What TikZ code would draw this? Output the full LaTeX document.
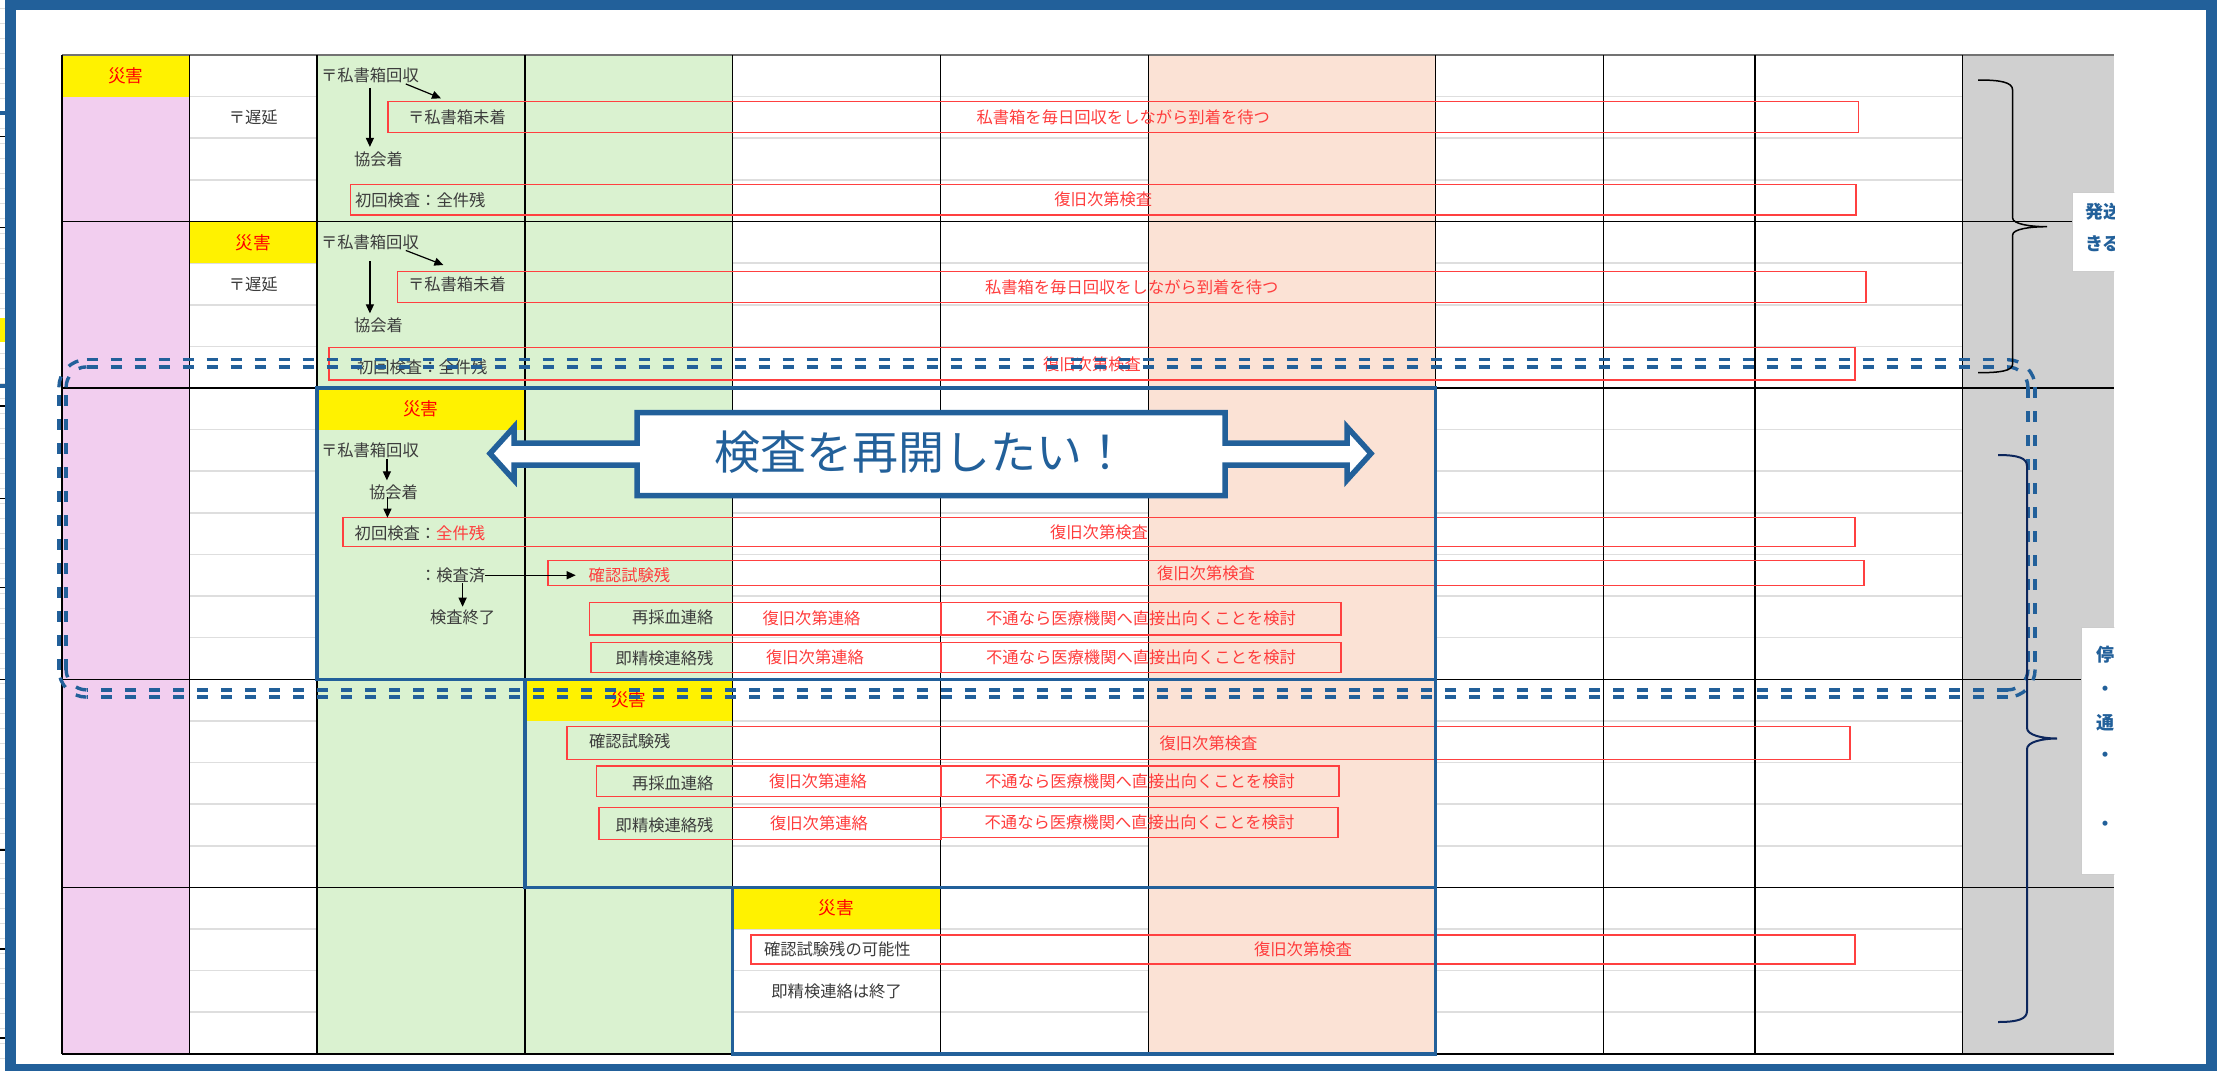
\documentclass[tikz,border=0pt]{standalone}
\usepackage{fontspec}
\newfontfamily\jp{Noto Sans CJK JP}
\usepackage{xcolor}
\usepackage{tikz}
\usetikzlibrary{
	arrows.meta,
	calc
}
\tikzstyle{every picture}+=[>={Triangle[length=9pt, width=8pt]}]
\definecolor{frameblue}{RGB}{34,96,154}
\definecolor{pinkcol}{RGB}{242,206,239}
\definecolor{greencol}{RGB}{218,242,208}
\definecolor{salmoncol}{RGB}{251,226,213}
\definecolor{graycol}{RGB}{208,208,208}
\definecolor{gridgray}{RGB}{222,222,222}
\definecolor{txtgray}{RGB}{60,60,60}
\definecolor{redline}{RGB}{255,64,64}
\definecolor{redtxt}{RGB}{255,60,60}
\definecolor{navy}{RGB}{12,38,92}

\begin{document}
\begin{tikzpicture}[x=1pt, y=-1pt,
		lbl/.style={font=\jp\fontsize{16.3}{18}\selectfont, text=txtgray, inner sep=0pt, outer sep=0pt, text height=14.3pt, text depth=2pt},
		redbox/.style={lbl, text=redtxt, draw=redline, line width=1.3pt, anchor=north west},
		ycell/.style={fill=yellow, text=red, anchor=north west, inner sep=0pt, outer sep=0pt, minimum height=41.62pt, font=\jp\fontsize{17.7}{20}\selectfont, text height=15.6pt, text depth=2.1pt},
		arr/.style={->, line width=1.2pt, black},
		notebox/.style={fill=white, draw=black!20, line width=1pt, anchor=north west, inner sep=0pt},
		notetxt/.style={font=\jp\bfseries\fontsize{18}{20}\selectfont, text=frameblue, inner sep=0pt, anchor=west, text height=15.8pt, text depth=2.2pt}
	]

	\newcommand\TopY{55}
	\newcommand\RowH{41.62}
	\newcommand\RowY[1]{\TopY+\RowH*(#1)}
	\newcommand\TabL{62.2}
	\newcommand\TabR{2114.4}
	\newcommand\TabB{1053.9}

	\useasboundingbox (0,0) rectangle (2217,1071);
	\fill[white] (0,0) rectangle (2217,1071);

	% strip of the sheet behind the frame
	\begin{scope}
		\clip (0,0) rectangle (5,1071);
		\foreach \y in {8,23,...,1065}
			\draw[gridgray, line width=1pt] (0,\y) -- (5,\y);
		\fill[yellow] (0,317.6) rectangle (5,341.5);
		\foreach \y in {136.6,227.5,406,498.6,587.4,679.6,850,949,1038}
			\draw[line width=1.2pt] (0,\y) -- (5,\y);
		\foreach \y in {112.7,386}
			\draw[frameblue, line width=4pt] (0,\y) -- (5,\y);
	\end{scope}

	% column colours
	\foreach \xa/\xb/\col in {62.2/189.5/pinkcol, 316.9/732.7/greencol, 1148.5/1435.5/salmoncol, 1962.7/2114.4/graycol}
		\fill[\col] (\xa,\TopY) rectangle (\xb,\TabB);

	% light lines of the sub-rows
	\foreach \row in {1,2,3,5,6,7,9,10,11,12,13,14,16,17,18,19,21,22,23}
		\foreach \xa/\xb in {189.5/316.9, 732.7/1148.5, 1435.5/1962.7}
			\draw[gridgray, line width=1.6pt] (\xa,{\RowY{\row}}) -- (\xb,{\RowY{\row}});

	\foreach \nm/\x/\w/\row in {0/62.2/127.3/0, 1/189.5/127.4/4, 2/316.9/207.9/8, 3/524.8/207.9/15, 4/732.7/207.8/20}
		\node[ycell, minimum width=\w pt] (dis\nm) at (\x,{\RowY{\row}}) {災害};

	% sheet lines
	\draw[line width=1.5pt, black!55] (\TabL,\TopY) -- (\TabR,\TopY);
	\foreach \x in {62.2,189.5,316.9,524.8,732.7,940.5,1148.5,1435.5,1603.6,1754.8,1962.7}
		\draw[line width=1.5pt] (\x,\TopY) -- (\x,\TabB);
	\foreach \row in {4,8,15,20,24}
		\draw[line width=1.5pt] (\TabL,{\RowY{\row}}) -- (\TabR,{\RowY{\row}});

	\foreach \nm/\x/\y/\w/\h/\txt in {
			rb1/388/101.7/1470.5/30.6/私書箱を毎日回収をしながら到着を待つ,
			rb3/350.6/184.3/1505.4/30.7/復旧次第検査,
			rb5/397.4/271.7/1468.6/30.6/私書箱を毎日回収をしながら到着を待つ,
			rb7/329/347.7/1526/32.3/復旧次第検査,
			rb11/343/517.7/1512/29/復旧次第検査,
			rb12/548/560.7/1316/25/復旧次第検査,
			rb13a/589.6/602.3/351.4/32.7/{},
			rb13b/941/602.3/400/32.7/不通なら医療機関へ直接出向くことを検討,
			rb14a/591/642.7/350/30/{},
			rb14b/941/642.7/400/30/不通なら医療機関へ直接出向くことを検討,
			rb16/567/726.7/1283/32.6/復旧次第検査,
			rb17a/596.7/766/344.3/30.7/{},
			rb17b/941/766/398/30.7/不通なら医療機関へ直接出向くことを検討,
			rb18a/599/807.3/342/32/{},
			rb18b/941/807.3/397/30/不通なら医療機関へ直接出向くことを検討,
			rb21/751/935/1104/29/復旧次第検査}
		\node[redbox, minimum width=\w pt, minimum height=\h pt] (\nm) at (\x,\y) {\txt};

	\foreach \nm/\x/\row/\txt in {
			p0/321/0/〒私書箱回収, m1/408/1/〒私書箱未着, k2/354/2/協会着, s3/355/3/初回検査：全件残,
			p4/321/4/〒私書箱回収, m5/408/5/〒私書箱未着, k6/354/6/協会着, s7/357/7/初回検査：全件残,
			p9/321/9/〒私書箱回収, k10/369/10/協会着, s11/354.7/11/初回検査：\textcolor{redtxt}{全件残},
			c12/420/12/：検査済, e13/430/13/検査終了, v16/589/16/確認試験残, v21/764/21/確認試験残の可能性}
		\node[lbl, anchor=west] (\nm) at (\x,{\RowY{\row+0.5}}) {\txt};
	\foreach \nm/\row/\txt in {r13/13/再採血連絡, j14/14/即精検連絡残, r17/17/再採血連絡, j18/18/即精検連絡残}
		\node[lbl, anchor=east] (\nm) at (713.5,{\RowY{\row+0.5}}) {\txt};
	\node[lbl] (late1) at (253.2,{\RowY{1.5}}) {〒遅延};
	\node[lbl] (late5) at (253.2,{\RowY{5.5}}) {〒遅延};
	\node[lbl] (end22) at (836.6,{\RowY{22.5}}) {即精検連絡は終了};
	\node[lbl, text=redtxt, anchor=west] (v12) at (588.7,{\RowY{12.5}}) {確認試験残};
	\foreach \nm/\x/\y in {w13/811.5/618.6, w14/815/657.7, w17/818/781.3, w18/819/823.3}
		\node[lbl, text=redtxt] (\nm) at (\x,\y) {復旧次第連絡};

	\draw[arr] ($(p0.south east)+(-13,0)$) -- ($(rb1.north west)+(53,-3.4)$);
	\draw[arr] ($(p0.south)+(0,4)$) -- ($(p0.south |- k2.north)+(0,-4)$);
	\draw[arr] ($(p4.south east)+(-13,0)$) -- ($(rb5.north west)+(46,-6.7)$);
	\draw[arr] ($(p4.south)+(0,11)$) -- ($(p4.south |- k6.north)+(0,-4)$);
	\draw[arr] ($(p9.south)+(17,0)$) -- ($(p9.south |- k10.north)+(17,-3.5)$);
	\draw[arr] ($(k10.south)+(-6,-3)$) -- ($(k10.south |- rb11.north)+(-6,0)$);
	\draw[arr] (c12.east) -- ($(v12.west)+(-13,0)$);
	\draw[arr] (c12.south -| e13.north) -- ($(e13.north)+(0,-2)$);

	% steps of the restart
	\begin{scope}[stair/.style={frameblue, line width=3.5pt}]
		\draw[stair] (316.9,{\RowY{8}}) rectangle (1435.5,{\RowY{15}});
		\draw[stair] (524.8,{\RowY{15}}) rectangle (1435.5,{\RowY{20}});
		\draw[stair] (732.7,{\RowY{20}}) rectangle (1435.5,{\RowY{24}});
	\end{scope}

	% two dashed strokes round the restart rows
	\begin{scope}[dbl/.style={frameblue, line width=3.4pt, dash pattern=on 11pt off 13pt}]
		\foreach \o in {0,7.2} {
			\draw[dbl] (86.5,359.7+\o) -- (2007.5,359.7+\o);
			\draw[dbl] (2035.1-\o,387.3) -- (2035.1-\o,669.5);
			\draw[dbl] (2007.5,697.1-\o) -- (86.5,697.1-\o);
			\draw[dbl] (58.9+\o,669.5) -- (58.9+\o,387.3);
			\draw[dbl] (58.9+\o,387.3) arc[start angle=180, end angle=270, radius=27.6-\o];
			\draw[dbl] (2007.5,359.7+\o) arc[start angle=270, end angle=360, radius=27.6-\o];
			\draw[dbl] (2035.1-\o,669.5) arc[start angle=0, end angle=90, radius=27.6-\o];
			\draw[dbl] (86.5,697.1-\o) arc[start angle=90, end angle=180, radius=27.6-\o];
		}
	\end{scope}

	\draw[frameblue, line width=5.5pt, fill=white, line join=miter]
		(637,412.5) -- (1225,412.5) -- (1225,443) -- (1347,443) -- (1347,427) -- (1371,453.5)
		-- (1347,480) -- (1347,465) -- (1225,465) -- (1225,495.5) -- (637,495.5) -- (637,465)
		-- (514,465) -- (514,480) -- (490,453.5) -- (514,427) -- (514,443) -- (637,443) -- cycle;
	\node[font=\jp\fontsize{46}{50}\selectfont, text=frameblue, inner sep=0pt, text height=40.5pt, text depth=5.5pt] (wish) at (921.5,452) {検査を再開したい！};

	% braces in the last column
	\draw[line width=1.5pt] (1978,80) .. controls (2000,80) and (2012.6,82) .. (2012.6,90)
		-- (2012.6,218) .. controls (2012.6,224) and (2030,226.7) .. (2047,226.7)
		.. controls (2030,226.7) and (2012.6,229) .. (2012.6,235)
		-- (2012.6,364) .. controls (2012.6,371) and (2000,372.7) .. (1978,372.7);
	\draw[navy, line width=2pt] (1998,455) .. controls (2018,455) and (2027,458) .. (2027,466)
		-- (2027,728) .. controls (2027,735) and (2042,738.5) .. (2057,738.5)
		.. controls (2042,738.5) and (2027,742) .. (2027,749)
		-- (2027,1011) .. controls (2027,1019) and (2018,1022) .. (1998,1022);

	\begin{scope}
		\clip (1962.7,0) rectangle (\TabR,1071);
		\node[notebox, minimum width=100pt, minimum height=79pt] (ship) at (2072,191.7) {};
		\node[notebox, minimum width=100pt, minimum height=247pt] (stop) at (2081,627) {};
		\node[notetxt] (ship1) at (2085,211.7) {発送};
		\node[notetxt] (ship2) at (2085,243.3) {きる};
		\foreach \nm/\y/\txt in {1/655/停, 2/689/・, 3/723/通, 4/755/・, 5/824/・}
			\node[notetxt] (stop\nm) at (2096,\y) {\txt};
	\end{scope}

	% frame
	\draw[frameblue, line width=11pt] (10.5,4.5) rectangle (2211.5,1069);

\end{tikzpicture}
\end{document}
